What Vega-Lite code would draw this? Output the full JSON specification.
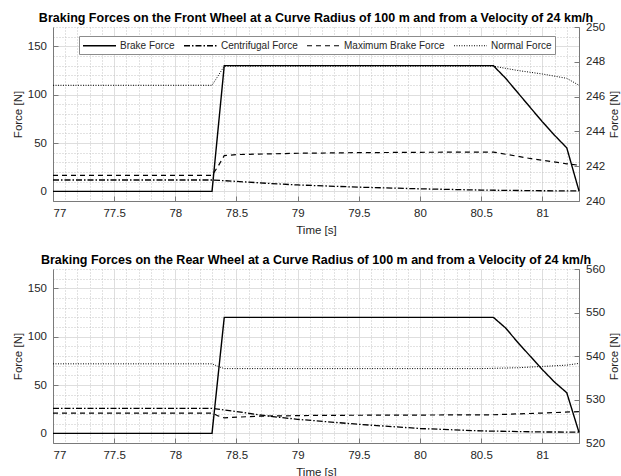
{
  "$schema": "https://vega.github.io/schema/vega-lite/v6.json",
  "padding": {"left": 12, "top": 11, "right": 4, "bottom": 0},
  "spacing": 17,
  "config": {
    "font": "Liberation Sans",
    "view": {"stroke": null},
    "axis": {"labelFont": "Liberation Sans", "titleFont": "Liberation Sans", "labelFontSize": 11.5, "titleFontSize": 11.5, "titleFontWeight": "normal", "labelColor": "#262626", "titleColor": "#262626", "domainColor": "#7a7a7a", "tickColor": "#7a7a7a", "tickSize": -5, "labelPadding": 11.5, "labelOverlap": false},
    "title": {"font": "Liberation Sans", "fontSize": 12.5, "fontWeight": "bold", "color": "#000000", "offset": -3},
    "legend": {"symbolType": "M-3,0L3,0", "symbolSize": 121, "symbolOffset": 11, "symbolStrokeWidth": 1, "symbolStrokeColor": "black", "labelFontSize": 10, "labelFont": "Liberation Sans", "labelColor": "#262626", "labelOffset": 14, "columnPadding": 6, "padding": 3, "strokeColor": "#8c8c8c", "fillColor": "white"}
  },
  "datasets": {
    "front": [
      {"t": 77, "v": 0, "s": "Brake Force"}, {"t": 78.3, "v": 0, "s": "Brake Force"}, {"t": 78.4, "v": 130, "s": "Brake Force"}, {"t": 80.6, "v": 130, "s": "Brake Force"}, {"t": 80.7, "v": 117, "s": "Brake Force"}, {"t": 80.8, "v": 102, "s": "Brake Force"}, {"t": 80.9, "v": 87, "s": "Brake Force"}, {"t": 81.0, "v": 72, "s": "Brake Force"}, {"t": 81.1, "v": 58, "s": "Brake Force"}, {"t": 81.2, "v": 45, "s": "Brake Force"}, {"t": 81.3, "v": 0.5, "s": "Brake Force"},
      {"t": 77, "v": 11.7, "s": "Centrifugal Force"}, {"t": 78.3, "v": 11.7, "s": "Centrifugal Force"}, {"t": 78.5, "v": 10.3, "s": "Centrifugal Force"}, {"t": 78.75, "v": 8.3, "s": "Centrifugal Force"}, {"t": 79, "v": 6.6, "s": "Centrifugal Force"}, {"t": 79.5, "v": 4.3, "s": "Centrifugal Force"}, {"t": 80, "v": 2.6, "s": "Centrifugal Force"}, {"t": 80.5, "v": 1.3, "s": "Centrifugal Force"}, {"t": 81, "v": 0.6, "s": "Centrifugal Force"}, {"t": 81.3, "v": 0.5, "s": "Centrifugal Force"},
      {"t": 77, "v": 16.5, "s": "Maximum Brake Force"}, {"t": 78.3, "v": 16.5, "s": "Maximum Brake Force"}, {"t": 78.35, "v": 26, "s": "Maximum Brake Force"}, {"t": 78.4, "v": 37, "s": "Maximum Brake Force"}, {"t": 78.5, "v": 38, "s": "Maximum Brake Force"}, {"t": 79, "v": 39.4, "s": "Maximum Brake Force"}, {"t": 79.5, "v": 40, "s": "Maximum Brake Force"}, {"t": 80, "v": 40.4, "s": "Maximum Brake Force"}, {"t": 80.6, "v": 40.6, "s": "Maximum Brake Force"}, {"t": 80.9, "v": 34, "s": "Maximum Brake Force"}, {"t": 81.2, "v": 28.5, "s": "Maximum Brake Force"}, {"t": 81.3, "v": 27, "s": "Maximum Brake Force"},
      {"t": 77, "v": 246.65, "s": "Normal Force"}, {"t": 78.3, "v": 246.65, "s": "Normal Force"}, {"t": 78.4, "v": 247.75, "s": "Normal Force"}, {"t": 80.6, "v": 247.75, "s": "Normal Force"}, {"t": 80.8, "v": 247.5, "s": "Normal Force"}, {"t": 81.0, "v": 247.3, "s": "Normal Force"}, {"t": 81.2, "v": 247.05, "s": "Normal Force"}, {"t": 81.3, "v": 246.65, "s": "Normal Force"}
    ],
    "rear": [
      {"t": 77, "v": 0, "s": "Brake Force"}, {"t": 78.3, "v": 0, "s": "Brake Force"}, {"t": 78.4, "v": 120, "s": "Brake Force"}, {"t": 80.6, "v": 120, "s": "Brake Force"}, {"t": 80.7, "v": 109, "s": "Brake Force"}, {"t": 80.8, "v": 94, "s": "Brake Force"}, {"t": 80.9, "v": 80, "s": "Brake Force"}, {"t": 81.0, "v": 66, "s": "Brake Force"}, {"t": 81.1, "v": 53, "s": "Brake Force"}, {"t": 81.2, "v": 42, "s": "Brake Force"}, {"t": 81.3, "v": 1, "s": "Brake Force"},
      {"t": 77, "v": 25.9, "s": "Centrifugal Force"}, {"t": 78.3, "v": 25.9, "s": "Centrifugal Force"}, {"t": 78.5, "v": 22.5, "s": "Centrifugal Force"}, {"t": 78.75, "v": 18, "s": "Centrifugal Force"}, {"t": 79, "v": 14.5, "s": "Centrifugal Force"}, {"t": 79.5, "v": 9.3, "s": "Centrifugal Force"}, {"t": 80, "v": 5, "s": "Centrifugal Force"}, {"t": 80.5, "v": 2.5, "s": "Centrifugal Force"}, {"t": 81, "v": 1.4, "s": "Centrifugal Force"}, {"t": 81.3, "v": 1.3, "s": "Centrifugal Force"},
      {"t": 77, "v": 21, "s": "Maximum Brake Force"}, {"t": 78.3, "v": 21, "s": "Maximum Brake Force"}, {"t": 78.35, "v": 18, "s": "Maximum Brake Force"}, {"t": 78.4, "v": 16, "s": "Maximum Brake Force"}, {"t": 78.68, "v": 17.8, "s": "Maximum Brake Force"}, {"t": 79.2, "v": 18.6, "s": "Maximum Brake Force"}, {"t": 80, "v": 18.9, "s": "Maximum Brake Force"}, {"t": 80.6, "v": 19.2, "s": "Maximum Brake Force"}, {"t": 81, "v": 21, "s": "Maximum Brake Force"}, {"t": 81.3, "v": 22.5, "s": "Maximum Brake Force"},
      {"t": 77, "v": 538.2, "s": "Normal Force"}, {"t": 78.3, "v": 538.2, "s": "Normal Force"}, {"t": 78.35, "v": 537.6, "s": "Normal Force"}, {"t": 78.4, "v": 537.1, "s": "Normal Force"}, {"t": 80.5, "v": 537.1, "s": "Normal Force"}, {"t": 80.8, "v": 537.3, "s": "Normal Force"}, {"t": 81.0, "v": 537.6, "s": "Normal Force"}, {"t": 81.2, "v": 537.9, "s": "Normal Force"}, {"t": 81.3, "v": 538.3, "s": "Normal Force"}
    ]
  },
  "vconcat": [
    {
      "title": "Braking Forces on the Front Wheel at a Curve Radius of 100 m and from a Velocity of 24 km/h",
      "width": 526, "height": 174,
      "data": {"name": "front"},
      "encoding": {
        "x": {"field": "t", "type": "quantitative", "scale": {"domain": [77, 81.3], "nice": false, "zero": false},
          "axis": {"title": "Time [s]", "labelOverlap": false, "values": [77,77.1,77.2,77.3,77.4,77.5,77.6,77.7,77.8,77.9,78,78.1,78.2,78.3,78.4,78.5,78.6,78.7,78.8,78.9,79,79.1,79.2,79.3,79.4,79.5,79.6,79.7,79.8,79.9,80,80.1,80.2,80.3,80.4,80.5,80.6,80.7,80.8,80.9,81,81.1,81.2,81.3],
            "labelExpr": "abs(datum.value*2 - round(datum.value*2)) < 0.000001 ? format(datum.value, '~g') : ''",
            "gridDash": {"condition": {"test": "abs(datum.value*2 - round(datum.value*2)) < 0.000001", "value": []}, "value": [1, 2]},
            "gridColor": {"condition": {"test": "abs(datum.value*2 - round(datum.value*2)) < 0.000001", "value": "#dedede"}, "value": "#c4c4c4"},
            "tickOpacity": {"condition": {"test": "abs(datum.value*2 - round(datum.value*2)) < 0.000001", "value": 1}, "value": 0},
            "titlePadding": 5}}
      },
      "layer": [
        {"transform": [{"filter": "datum.s !== 'Normal Force'"}], "mark": {"type": "line", "color": "black"},
          "encoding": {
            "y": {"field": "v", "type": "quantitative", "scale": {"domain": [-10, 170], "nice": false, "zero": false},
              "axis": {"title": "Force [N]", "labelOverlap": false, "values": [-10,0,10,20,30,40,50,60,70,80,90,100,110,120,130,140,150,160,170],
                "labelExpr": "datum.value % 50 === 0 ? format(datum.value, 'd') : ''",
                "gridDash": {"condition": {"test": "datum.value % 50 === 0", "value": []}, "value": [1, 2]},
                "gridColor": {"condition": {"test": "datum.value % 50 === 0", "value": "#dedede"}, "value": "#c4c4c4"},
                "tickOpacity": {"condition": {"test": "datum.value % 50 === 0", "value": 1}, "value": 0}}},
            "strokeDash": {"field": "s", "type": "nominal",
              "scale": {"domain": ["Brake Force", "Centrifugal Force", "Maximum Brake Force", "Normal Force"], "range": [[1, 0], [6, 2, 1.5, 2], [5, 4], [1, 1.5]]},
              "legend": {"title": null, "orient": "none", "legendX": 26, "legendY": 9, "direction": "horizontal"}},
            "strokeWidth": {"field": "s", "type": "nominal", "scale": {"domain": ["Brake Force", "Centrifugal Force", "Maximum Brake Force", "Normal Force"], "range": [1.4, 1.1, 1.1, 1]}, "legend": null}
          }},
        {"transform": [{"filter": "datum.s === 'Normal Force'"}], "mark": {"type": "line", "color": "black", "strokeWidth": 1},
          "encoding": {
            "y": {"field": "v", "type": "quantitative", "scale": {"domain": [240, 250], "nice": false, "zero": false},
              "axis": {"orient": "right", "title": "Force [N]", "titleAngle": 270, "titleBaseline": "top", "grid": false, "labelOverlap": false, "values": [240, 242, 244, 246, 248, 250]}},
            "strokeDash": {"field": "s", "type": "nominal"}
          }}
      ],
      "resolve": {"scale": {"y": "independent"}}
    },
    {
      "title": "Braking Forces on the Rear Wheel at a Curve Radius of 100 m and from a Velocity of 24 km/h",
      "width": 526, "height": 174,
      "data": {"name": "rear"},
      "encoding": {
        "x": {"field": "t", "type": "quantitative", "scale": {"domain": [77, 81.3], "nice": false, "zero": false},
          "axis": {"title": "Time [s]", "labelOverlap": false, "values": [77,77.1,77.2,77.3,77.4,77.5,77.6,77.7,77.8,77.9,78,78.1,78.2,78.3,78.4,78.5,78.6,78.7,78.8,78.9,79,79.1,79.2,79.3,79.4,79.5,79.6,79.7,79.8,79.9,80,80.1,80.2,80.3,80.4,80.5,80.6,80.7,80.8,80.9,81,81.1,81.2,81.3],
            "labelExpr": "abs(datum.value*2 - round(datum.value*2)) < 0.000001 ? format(datum.value, '~g') : ''",
            "gridDash": {"condition": {"test": "abs(datum.value*2 - round(datum.value*2)) < 0.000001", "value": []}, "value": [1, 2]},
            "gridColor": {"condition": {"test": "abs(datum.value*2 - round(datum.value*2)) < 0.000001", "value": "#dedede"}, "value": "#c4c4c4"},
            "tickOpacity": {"condition": {"test": "abs(datum.value*2 - round(datum.value*2)) < 0.000001", "value": 1}, "value": 0},
            "titlePadding": 5}}
      },
      "layer": [
        {"transform": [{"filter": "datum.s !== 'Normal Force'"}], "mark": {"type": "line", "color": "black"},
          "encoding": {
            "y": {"field": "v", "type": "quantitative", "scale": {"domain": [-10, 170], "nice": false, "zero": false},
              "axis": {"title": "Force [N]", "labelOverlap": false, "values": [-10,0,10,20,30,40,50,60,70,80,90,100,110,120,130,140,150,160,170],
                "labelExpr": "datum.value % 50 === 0 ? format(datum.value, 'd') : ''",
                "gridDash": {"condition": {"test": "datum.value % 50 === 0", "value": []}, "value": [1, 2]},
                "gridColor": {"condition": {"test": "datum.value % 50 === 0", "value": "#dedede"}, "value": "#c4c4c4"},
                "tickOpacity": {"condition": {"test": "datum.value % 50 === 0", "value": 1}, "value": 0}}},
            "strokeDash": {"field": "s", "type": "nominal",
              "scale": {"domain": ["Brake Force", "Centrifugal Force", "Maximum Brake Force", "Normal Force"], "range": [[1, 0], [6, 2, 1.5, 2], [5, 4], [1, 1.5]]},
              "legend": {"title": null, "orient": "none", "legendX": 26, "legendY": 9, "direction": "horizontal"}},
            "strokeWidth": {"field": "s", "type": "nominal", "scale": {"domain": ["Brake Force", "Centrifugal Force", "Maximum Brake Force", "Normal Force"], "range": [1.4, 1.1, 1.1, 1]}, "legend": null}
          }},
        {"transform": [{"filter": "datum.s === 'Normal Force'"}], "mark": {"type": "line", "color": "black", "strokeWidth": 1},
          "encoding": {
            "y": {"field": "v", "type": "quantitative", "scale": {"domain": [520, 560], "nice": false, "zero": false},
              "axis": {"orient": "right", "title": "Force [N]", "titleAngle": 270, "titleBaseline": "top", "grid": false, "labelOverlap": false, "values": [520, 530, 540, 550, 560]}},
            "strokeDash": {"field": "s", "type": "nominal"}
          }}
      ],
      "resolve": {"scale": {"y": "independent"}}
    }
  ]
}
